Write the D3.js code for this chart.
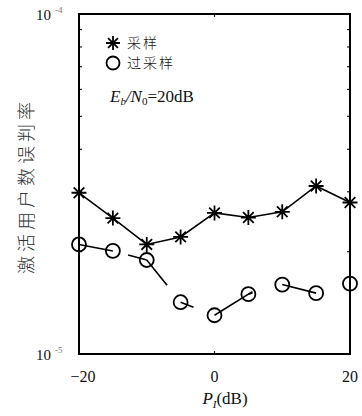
<!DOCTYPE html>
<html>
<head>
<meta charset="utf-8">
<script src="https://cdn.jsdelivr.net/npm/d3@7"></script>
<style>
  body { margin: 0; background: #fff; }
  svg { display: block; }
  text { fill: #111; }
</style>
</head>
<body>
<svg id="chart" width="362" height="416"></svg>
<script>
// power ratio P_I (dB)
var pi = [-20, -15, -10, -5, 0, 5, 10, 15, 20];
// misjudgement rate, sampling (*)
var sampled = [2.98e-5, 2.51e-5, 2.10e-5, 2.21e-5, 2.60e-5, 2.52e-5, 2.62e-5, 3.12e-5, 2.79e-5];
// misjudgement rate, oversampling (o)
var oversampled = [2.10e-5, 2.01e-5, 1.89e-5, 1.42e-5, 1.30e-5, 1.50e-5, 1.60e-5, 1.51e-5, 1.61e-5];
// visible parts of the (broken) oversampling line between neighbours
var ovLinks = [[0, 1], [0.45, 1], [0, 0.6], [0, 0.38], [0, 1.12], [0, 0.12], [0, 1], null];
var xTicks = [-20, 0, 20];
var yTicks = [1e-5, 1e-4];
var yMinor = [2e-5, 3e-5, 4e-5, 5e-5, 6e-5, 7e-5, 8e-5, 9e-5];

var svg = d3.select('#chart');
var L = 79, R = 350, T = 14, B = 354;

var x = d3.scaleLinear().domain([-20, 20]).range([L, R]);
var y = d3.scaleLog().domain([1e-5, 1e-4]).range([B, T]);

var serif = "'Liberation Serif', 'DejaVu Serif', serif";
var cjk = "'Noto Sans CJK SC', sans-serif";

// minor ticks on both sides (tiny, inward)
var ticks = svg.append('g').attr('stroke', '#222').attr('stroke-width', 1.2);
yMinor.forEach(function(v) {
    ticks.append('line').attr('x1', L).attr('x2', L + 3).attr('y1', y(v)).attr('y2', y(v));
    ticks.append('line').attr('x1', R).attr('x2', R - 3).attr('y1', y(v)).attr('y2', y(v));
});
xTicks.forEach(function(v) {
    ticks.append('line').attr('x1', x(v)).attr('x2', x(v)).attr('y1', B).attr('y2', B - 3);
    ticks.append('line').attr('x1', x(v)).attr('x2', x(v)).attr('y1', T).attr('y2', T + 3);
});

// frame
svg.append('rect')
    .attr('x', L).attr('y', T)
    .attr('width', R - L).attr('height', B - T)
    .attr('fill', 'none').attr('stroke', '#000').attr('stroke-width', 2);

// x tick labels
svg.append('g').selectAll('text')
    .data(xTicks)
    .enter()
    .append('text')
    .attr('x', function(d) { return x(d) + (d === -20 ? 4 : 0); })
    .attr('y', 382)
    .attr('text-anchor', 'middle')
    .style('font-family', serif)
    .style('font-size', '16px')
    .text(function(d) { return d < 0 ? '\u2212' + Math.abs(d) : d; });

// y tick labels 10^-5, 10^-4
yTicks.forEach(function(v) {
    var t = svg.append('text')
        .attr('x', 36)
        .attr('y', y(v) + 6)
        .style('font-family', serif)
        .style('font-size', '15px');
    t.append('tspan').text('10');
    t.append('tspan')
        .attr('dx', 4).attr('dy', -7)
        .style('font-size', '9px')
        .style('fill', '#777')
        .text(Math.round(Math.log10(v)));
});

// axis titles
var xl = svg.append('text')
    .attr('x', 225).attr('y', 404)
    .attr('text-anchor', 'middle')
    .style('font-family', serif)
    .style('font-size', '17px');
xl.append('tspan').style('font-style', 'italic').text('P');
xl.append('tspan').attr('dy', 4).style('font-size', '11px').style('font-style', 'italic').text('I');
xl.append('tspan').attr('dy', -4).text('(dB)');

svg.append('text')
    .attr('transform', 'translate(33,186) rotate(-90)')
    .attr('text-anchor', 'middle')
    .style('font-family', cjk)
    .style('font-size', '18px')
    .style('font-weight', 300)
    .style('letter-spacing', '4px')
    .style('fill', '#333')
    .text('激活用户数误判率');

// star marker path (8 arms)
function starPath(r) {
    var p = '';
    [0, 45, 90, 135].forEach(function(a) {
        var rad = a * Math.PI / 180;
        var dx = r * Math.cos(rad), dy = r * Math.sin(rad);
        p += 'M' + (-dx) + ',' + (-dy) + 'L' + dx + ',' + dy;
    });
    return p;
}

var plot = svg.append('g');

// sampling line
var line = d3.line()
    .x(function(d, i) { return x(pi[i]); })
    .y(function(d) { return y(d); });

plot.append('path')
    .attr('d', line(sampled))
    .attr('fill', 'none')
    .attr('stroke', '#000')
    .attr('stroke-width', 1.6);

plot.selectAll('.star')
    .data(sampled)
    .enter()
    .append('path')
    .attr('class', 'star')
    .attr('transform', function(d, i) { return 'translate(' + x(pi[i]) + ',' + y(d) + ')'; })
    .attr('d', starPath(7.5))
    .attr('stroke', '#000')
    .attr('stroke-width', 1.8);

// oversampling broken line
ovLinks.forEach(function(f, i) {
    if (!f) return;
    var x0 = x(pi[i]), y0 = y(oversampled[i]);
    var x1 = x(pi[i + 1]), y1 = y(oversampled[i + 1]);
    plot.append('line')
        .attr('x1', x0 + (x1 - x0) * f[0]).attr('y1', y0 + (y1 - y0) * f[0])
        .attr('x2', x0 + (x1 - x0) * f[1]).attr('y2', y0 + (y1 - y0) * f[1])
        .attr('stroke', '#000')
        .attr('stroke-width', 1.6);
});

plot.selectAll('.ring')
    .data(oversampled)
    .enter()
    .append('circle')
    .attr('class', 'ring')
    .attr('cx', function(d, i) { return x(pi[i]); })
    .attr('cy', function(d) { return y(d); })
    .attr('r', 7)
    .attr('fill', 'none')
    .attr('stroke', '#000')
    .attr('stroke-width', 1.8);

// legend
var lg = svg.append('g');
lg.append('path')
    .attr('transform', 'translate(113,43)')
    .attr('d', starPath(7))
    .attr('stroke', '#000')
    .attr('stroke-width', 1.8);
lg.append('text')
    .attr('x', 127).attr('y', 48)
    .style('font-family', cjk)
    .style('font-size', '14px')
    .style('font-weight', 300)
    .style('letter-spacing', '2px')
    .text('采样');
lg.append('circle')
    .attr('cx', 113).attr('cy', 63).attr('r', 6.5)
    .attr('fill', 'none').attr('stroke', '#000').attr('stroke-width', 1.8);
lg.append('text')
    .attr('x', 127).attr('y', 68)
    .style('font-family', cjk)
    .style('font-size', '14px')
    .style('font-weight', 300)
    .style('letter-spacing', '2px')
    .text('过采样');

var eb = lg.append('text')
    .attr('x', 110).attr('y', 102)
    .style('font-family', serif)
    .style('font-size', '17px');
eb.append('tspan').style('font-style', 'italic').text('E');
eb.append('tspan').attr('dy', 3).style('font-size', '11px').style('font-style', 'italic').text('b');
eb.append('tspan').attr('dy', -3).style('font-style', 'italic').text('/N');
eb.append('tspan').attr('dy', 3).style('font-size', '11px').text('0');
eb.append('tspan').attr('dy', -3).text('=20dB');
</script>
</body>
</html>
